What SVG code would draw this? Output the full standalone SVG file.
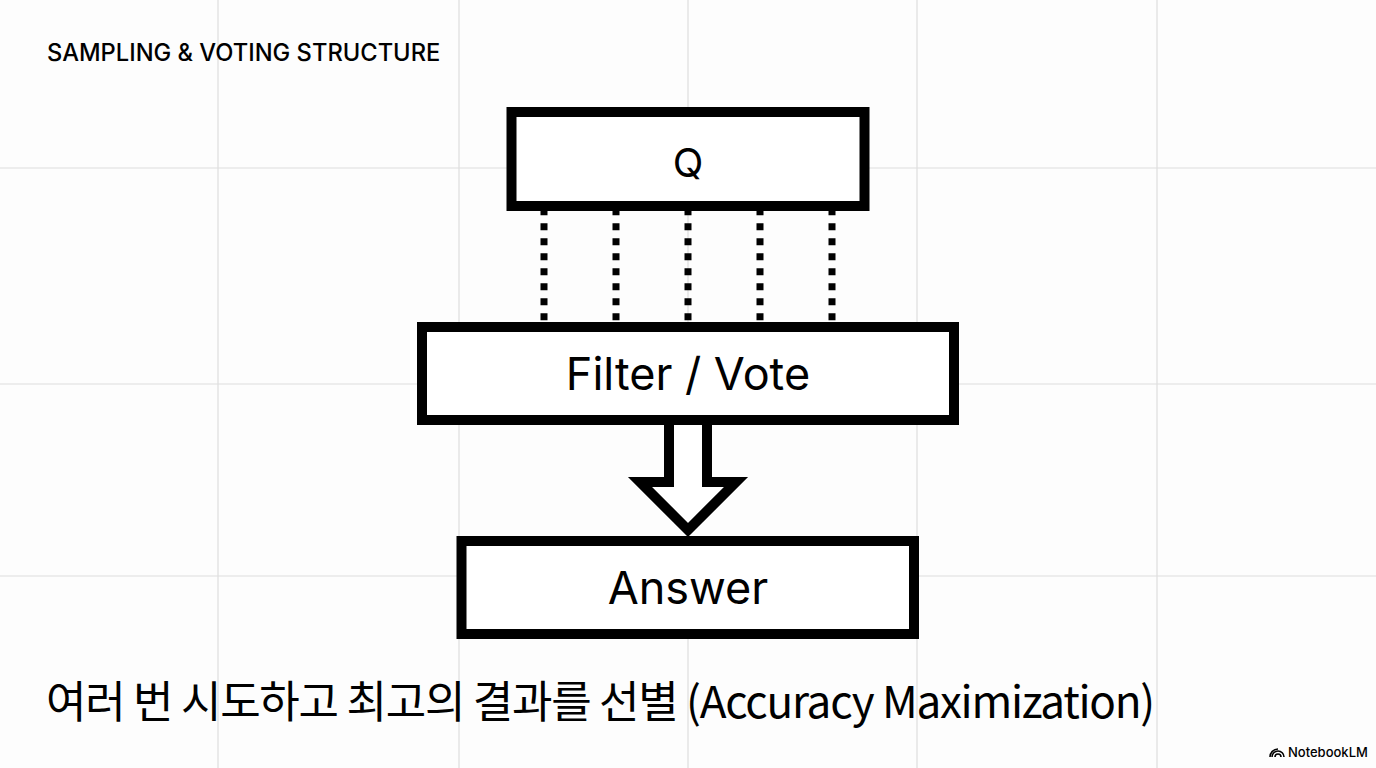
<svg xmlns="http://www.w3.org/2000/svg" width="1376" height="768" viewBox="0 0 1376 768">
<style>
.grid{stroke:#dedede;stroke-width:1.2;fill:none}
.box{fill:#fff;stroke:#000;stroke-width:10}
.lbl{font-family:Inter,"Liberation Sans",sans-serif;fill:#000;text-anchor:middle}
.dot{stroke:#000;stroke-width:7;stroke-dasharray:7 8;fill:none}
</style>
<rect width="1376" height="768" fill="#fdfdfd"/>
<g id="grid">
<path class="grid" d="M218,0V768M459,0V768M688,0V768M917,0V768M1157,0V768M0,168H1376M0,384H1376M0,576H1376"/>
</g>
<text id="title" x="47" y="61" font-family="Inter,'Liberation Sans',sans-serif" font-size="23.7" font-weight="500" fill="#000">SAMPLING &amp; VOTING STRUCTURE</text>
<g id="connectors">
<path class="dot" d="M544,208.3V322M616,208.3V322M688,208.3V322M760,208.3V322M832,208.3V322"/>
<path d="M669,424V482H640L688,530L736,482H707V424" fill="#fff" stroke="#000" stroke-width="10" stroke-linejoin="miter"/>
</g>
<g id="node-q">
<rect class="box" x="511.5" y="112" width="353" height="94"/>
<text class="lbl" x="688" y="177" font-size="40">Q</text>
</g>
<g id="node-filter">
<rect class="box" x="422" y="327" width="532" height="93"/>
<text class="lbl" x="688" y="390" font-size="45">Filter / Vote</text>
</g>
<g id="node-answer">
<rect class="box" x="461.5" y="541" width="452.5" height="93"/>
<text class="lbl" x="688" y="604" font-size="45">Answer</text>
</g>
<text id="caption" x="46" y="718" font-family="'Noto Sans CJK KR',sans-serif" font-size="44" font-weight="400" letter-spacing="-1.25" fill="#000">여러 번 시도하고 최고의 결과를 선별 (Accuracy Maximization)</text>
<g id="logo">
<path d="M1272,757a6,6 0 0 1 12,0M1275,757a3,3 0 0 1 6,0M1270,757a8,8 0 0 1 8,-8" fill="none" stroke="#000" stroke-width="1.6"/>
<text x="1288" y="757" font-family="Inter,'Liberation Sans',sans-serif" font-size="13" font-weight="500" fill="#000">NotebookLM</text>
</g>
</svg>
